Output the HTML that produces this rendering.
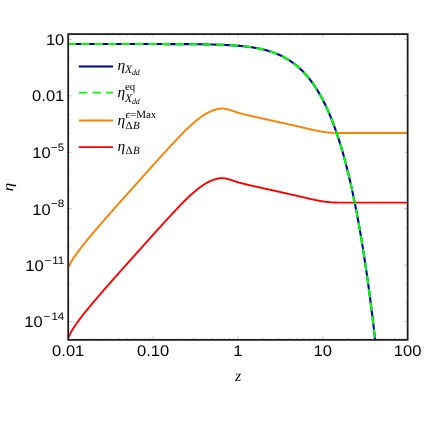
<!DOCTYPE html>
<html><head><meta charset="utf-8"><title>plot</title>
<style>
html,body{margin:0;padding:0;background:#fff;}
body{width:425px;height:425px;overflow:hidden;font-family:"Liberation Sans",sans-serif;}
svg{display:block;text-rendering:geometricPrecision;will-change:transform;}
.tl text{font-family:"Liberation Sans",sans-serif;fill:#000;}
.lg text{font-family:"Liberation Serif",serif;fill:#000;}
.it{font-style:italic;}
</style></head><body>
<svg width="425" height="425" viewBox="0 0 425 425">
<rect width="425" height="425" fill="#fff"/>
<defs><clipPath id="c"><rect x="68.2" y="34.1" width="339.45" height="305.75"/></clipPath></defs>
<g clip-path="url(#c)" fill="none" stroke-linejoin="round">
<path d="M68.2,338.46 L68.7,337.17 L69.2,335.98 L69.7,334.87 L70.2,333.83 L70.7,332.84 L71.2,331.9 L71.7,330.99 L72.2,330.13 L72.7,329.29 L73.2,328.48 L73.7,327.68 L74.2,326.91 L74.7,326.16 L75.2,325.41 L75.7,324.69 L76.2,323.97 L76.7,323.26 L77.2,322.56 L77.7,321.87 L78.2,321.19 L78.7,320.51 L79.2,319.84 L79.7,319.18 L80.2,318.52 L80.7,317.86 L81.2,317.21 L81.7,316.57 L82.2,315.92 L82.7,315.28 L83.2,314.65 L83.7,314.02 L84.2,313.39 L84.7,312.76 L85.2,312.14 L85.7,311.52 L86.2,310.9 L86.7,310.28 L87.2,309.67 L87.7,309.06 L88.2,308.45 L88.7,307.84 L89.2,307.23 L89.7,306.63 L90.2,306.03 L90.7,305.42 L91.2,304.83 L91.7,304.23 L92.2,303.63 L92.7,303.04 L93.2,302.44 L93.7,301.85 L94.2,301.26 L94.7,300.67 L95.2,300.08 L95.7,299.5 L96.2,298.91 L96.7,298.33 L97.2,297.74 L97.7,297.16 L98.2,296.58 L98.7,296 L99.2,295.41 L99.7,294.84 L100.2,294.26 L100.7,293.68 L101.2,293.1 L101.7,292.53 L102.19,291.95 L102.69,291.37 L103.19,290.8 L103.69,290.23 L104.19,289.65 L104.69,289.08 L105.19,288.51 L105.69,287.94 L106.19,287.37 L106.69,286.8 L107.19,286.23 L107.69,285.66 L108.19,285.09 L108.69,284.52 L109.19,283.95 L109.69,283.38 L110.19,282.82 L110.69,282.25 L111.19,281.68 L111.69,281.12 L112.19,280.55 L112.69,279.99 L113.19,279.42 L113.69,278.86 L114.19,278.29 L114.69,277.73 L115.19,277.16 L115.69,276.6 L116.19,276.04 L116.69,275.47 L117.19,274.91 L117.69,274.35 L118.19,273.78 L118.69,273.22 L119.19,272.66 L119.69,272.1 L120.19,271.54 L120.69,270.97 L121.19,270.41 L121.69,269.85 L122.19,269.29 L122.69,268.73 L123.19,268.17 L123.69,267.61 L124.19,267.05 L124.69,266.49 L125.19,265.93 L125.69,265.37 L126.19,264.81 L126.69,264.25 L127.19,263.69 L127.69,263.13 L128.19,262.57 L128.69,262.01 L129.19,261.45 L129.69,260.89 L130.19,260.33 L130.69,259.77 L131.19,259.21 L131.69,258.66 L132.19,258.1 L132.69,257.54 L133.19,256.98 L133.69,256.42 L134.19,255.86 L134.69,255.31 L135.19,254.75 L135.69,254.19 L136.19,253.63 L136.69,253.07 L137.19,252.51 L137.69,251.96 L138.19,251.4 L138.69,250.84 L139.19,250.28 L139.69,249.73 L140.19,249.17 L140.69,248.61 L141.19,248.05 L141.69,247.49 L142.19,246.94 L142.69,246.38 L143.19,245.82 L143.69,245.26 L144.19,244.71 L144.69,244.15 L145.19,243.59 L145.69,243.04 L146.19,242.48 L146.69,241.92 L147.19,241.36 L147.69,240.81 L148.19,240.25 L148.69,239.69 L149.19,239.14 L149.69,238.58 L150.19,238.02 L150.69,237.47 L151.19,236.91 L151.69,236.35 L152.19,235.8 L152.69,235.24 L153.19,234.69 L153.69,234.13 L154.19,233.58 L154.69,233.03 L155.19,232.47 L155.69,231.92 L156.19,231.37 L156.69,230.81 L157.19,230.26 L157.69,229.71 L158.19,229.16 L158.69,228.61 L159.19,228.06 L159.69,227.51 L160.19,226.96 L160.69,226.41 L161.19,225.86 L161.69,225.31 L162.19,224.76 L162.69,224.21 L163.19,223.66 L163.69,223.12 L164.19,222.57 L164.69,222.03 L165.19,221.48 L165.69,220.93 L166.19,220.39 L166.69,219.85 L167.19,219.3 L167.69,218.76 L168.19,218.22 L168.69,217.67 L169.19,217.13 L169.69,216.59 L170.18,216.05 L170.68,215.51 L171.18,214.97 L171.68,214.43 L172.18,213.9 L172.68,213.36 L173.18,212.82 L173.68,212.29 L174.18,211.75 L174.68,211.21 L175.18,210.68 L175.68,210.15 L176.18,209.61 L176.68,209.08 L177.18,208.55 L177.68,208.02 L178.18,207.49 L178.68,206.97 L179.18,206.44 L179.68,205.92 L180.18,205.4 L180.68,204.87 L181.18,204.36 L181.68,203.84 L182.18,203.32 L182.68,202.81 L183.18,202.3 L183.68,201.79 L184.18,201.29 L184.68,200.79 L185.18,200.29 L185.68,199.79 L186.18,199.3 L186.68,198.82 L187.18,198.33 L187.68,197.86 L188.18,197.38 L188.68,196.91 L189.18,196.45 L189.68,195.99 L190.18,195.53 L190.68,195.08 L191.18,194.63 L191.68,194.18 L192.18,193.74 L192.68,193.3 L193.18,192.87 L193.68,192.43 L194.18,192.01 L194.68,191.58 L195.18,191.16 L195.68,190.75 L196.18,190.33 L196.68,189.93 L197.18,189.52 L197.68,189.12 L198.18,188.73 L198.68,188.34 L199.18,187.96 L199.68,187.58 L200.18,187.2 L200.68,186.83 L201.18,186.47 L201.68,186.11 L202.18,185.76 L202.68,185.42 L203.18,185.08 L203.68,184.75 L204.18,184.43 L204.68,184.11 L205.18,183.8 L205.68,183.5 L206.18,183.21 L206.68,182.93 L207.18,182.66 L207.68,182.39 L208.18,182.13 L208.68,181.88 L209.18,181.64 L209.68,181.4 L210.18,181.18 L210.68,180.95 L211.18,180.74 L211.68,180.53 L212.18,180.33 L212.68,180.14 L213.18,179.96 L213.68,179.78 L214.18,179.61 L214.68,179.45 L215.18,179.3 L215.68,179.15 L216.18,179.01 L216.68,178.88 L217.18,178.76 L217.68,178.65 L218.18,178.54 L218.68,178.45 L219.18,178.36 L219.68,178.29 L220.18,178.23 L220.68,178.18 L221.18,178.15 L221.68,178.14 L222.18,178.14 L222.68,178.16 L223.18,178.19 L223.68,178.23 L224.18,178.28 L224.68,178.35 L225.18,178.42 L225.68,178.51 L226.18,178.61 L226.68,178.72 L227.18,178.83 L227.68,178.96 L228.18,179.1 L228.68,179.24 L229.18,179.38 L229.68,179.54 L230.18,179.69 L230.68,179.85 L231.18,180.02 L231.68,180.18 L232.18,180.35 L232.68,180.52 L233.18,180.69 L233.68,180.86 L234.18,181.03 L234.68,181.19 L235.18,181.36 L235.68,181.52 L236.18,181.68 L236.68,181.84 L237.18,182 L237.68,182.15 L238.17,182.3 L238.67,182.45 L239.17,182.59 L239.67,182.73 L240.17,182.87 L240.67,183.01 L241.17,183.15 L241.67,183.28 L242.17,183.41 L242.67,183.54 L243.17,183.67 L243.67,183.79 L244.17,183.92 L244.67,184.04 L245.17,184.16 L245.67,184.28 L246.17,184.4 L246.67,184.52 L247.17,184.64 L247.67,184.76 L248.17,184.88 L248.67,184.99 L249.17,185.11 L249.67,185.22 L250.17,185.34 L250.67,185.45 L251.17,185.57 L251.67,185.68 L252.17,185.79 L252.67,185.9 L253.17,186.02 L253.67,186.13 L254.17,186.24 L254.67,186.35 L255.17,186.47 L255.67,186.58 L256.17,186.69 L256.67,186.8 L257.17,186.91 L257.67,187.02 L258.17,187.13 L258.67,187.24 L259.17,187.36 L259.67,187.47 L260.17,187.58 L260.67,187.69 L261.17,187.8 L261.67,187.91 L262.17,188.02 L262.67,188.13 L263.17,188.24 L263.67,188.35 L264.17,188.47 L264.67,188.58 L265.17,188.69 L265.67,188.8 L266.17,188.91 L266.67,189.02 L267.17,189.13 L267.67,189.24 L268.17,189.35 L268.67,189.47 L269.17,189.58 L269.67,189.69 L270.17,189.8 L270.67,189.91 L271.17,190.02 L271.67,190.13 L272.17,190.24 L272.67,190.36 L273.17,190.47 L273.67,190.58 L274.17,190.69 L274.67,190.8 L275.17,190.91 L275.67,191.02 L276.17,191.13 L276.67,191.25 L277.17,191.36 L277.67,191.47 L278.17,191.58 L278.67,191.69 L279.17,191.8 L279.67,191.92 L280.17,192.03 L280.67,192.14 L281.17,192.25 L281.67,192.36 L282.17,192.48 L282.67,192.59 L283.17,192.7 L283.67,192.81 L284.17,192.92 L284.67,193.04 L285.17,193.15 L285.67,193.26 L286.17,193.37 L286.67,193.48 L287.17,193.6 L287.67,193.71 L288.17,193.82 L288.67,193.93 L289.17,194.05 L289.67,194.16 L290.17,194.27 L290.67,194.38 L291.17,194.5 L291.67,194.61 L292.17,194.72 L292.67,194.84 L293.17,194.95 L293.67,195.06 L294.17,195.18 L294.67,195.29 L295.17,195.4 L295.67,195.52 L296.17,195.63 L296.67,195.74 L297.17,195.86 L297.67,195.97 L298.17,196.08 L298.67,196.2 L299.17,196.31 L299.67,196.42 L300.17,196.54 L300.67,196.65 L301.17,196.77 L301.67,196.88 L302.17,197 L302.67,197.11 L303.17,197.23 L303.67,197.34 L304.17,197.46 L304.67,197.57 L305.17,197.69 L305.67,197.8 L306.16,197.92 L306.66,198.04 L307.16,198.16 L307.66,198.27 L308.16,198.39 L308.66,198.51 L309.16,198.62 L309.66,198.74 L310.16,198.86 L310.66,198.98 L311.16,199.09 L311.66,199.21 L312.16,199.32 L312.66,199.43 L313.16,199.54 L313.66,199.65 L314.16,199.76 L314.66,199.87 L315.16,199.97 L315.66,200.08 L316.16,200.18 L316.66,200.28 L317.16,200.38 L317.66,200.48 L318.16,200.58 L318.66,200.68 L319.16,200.77 L319.66,200.86 L320.16,200.95 L320.66,201.04 L321.16,201.12 L321.66,201.21 L322.16,201.29 L322.66,201.37 L323.16,201.44 L323.66,201.52 L324.16,201.59 L324.66,201.65 L325.16,201.72 L325.66,201.78 L326.16,201.84 L326.66,201.9 L327.16,201.96 L327.66,202.01 L328.16,202.06 L328.66,202.11 L329.16,202.15 L329.66,202.2 L330.16,202.24 L330.66,202.27 L331.16,202.31 L331.66,202.34 L332.16,202.38 L332.66,202.4 L333.16,202.43 L333.66,202.46 L334.16,202.48 L334.66,202.5 L335.16,202.52 L335.66,202.54 L336.16,202.56 L336.66,202.57 L337.16,202.58 L337.66,202.6 L338.16,202.61 L338.66,202.62 L339.16,202.62 L339.66,202.63 L340.16,202.64 L340.66,202.64 L341.16,202.65 L341.66,202.65 L342.16,202.65 L342.66,202.65 L343.16,202.65 L343.66,202.65 L344.16,202.65 L344.66,202.65 L345.16,202.65 L345.66,202.65 L346.16,202.65 L346.66,202.65 L347.16,202.65 L347.66,202.65 L348.16,202.65 L348.66,202.65 L349.16,202.65 L349.66,202.65 L350.16,202.65 L350.66,202.65 L351.16,202.65 L351.66,202.65 L352.16,202.65 L352.66,202.65 L353.16,202.65 L353.66,202.65 L354.16,202.65 L354.66,202.65 L355.16,202.65 L355.66,202.65 L356.16,202.65 L356.66,202.65 L357.16,202.65 L357.66,202.65 L358.16,202.65 L358.66,202.65 L359.16,202.65 L359.66,202.65 L360.16,202.65 L360.66,202.65 L361.16,202.65 L361.66,202.65 L362.16,202.65 L362.66,202.65 L363.16,202.65 L363.66,202.65 L364.16,202.65 L364.66,202.65 L365.16,202.65 L365.66,202.65 L366.16,202.65 L366.66,202.65 L367.16,202.65 L367.66,202.65 L368.16,202.65 L368.66,202.65 L369.16,202.65 L369.66,202.65 L370.16,202.65 L370.66,202.65 L371.16,202.65 L371.66,202.65 L372.16,202.65 L372.66,202.65 L373.16,202.65 L373.66,202.65 L374.15,202.65 L374.65,202.65 L375.15,202.65 L375.65,202.65 L376.15,202.65 L376.65,202.65 L377.15,202.65 L377.65,202.65 L378.15,202.65 L378.65,202.65 L379.15,202.65 L379.65,202.65 L380.15,202.65 L380.65,202.65 L381.15,202.65 L381.65,202.65 L382.15,202.65 L382.65,202.65 L383.15,202.65 L383.65,202.65 L384.15,202.65 L384.65,202.65 L385.15,202.65 L385.65,202.65 L386.15,202.65 L386.65,202.65 L387.15,202.65 L387.65,202.65 L388.15,202.65 L388.65,202.65 L389.15,202.65 L389.65,202.65 L390.15,202.65 L390.65,202.65 L391.15,202.65 L391.65,202.65 L392.15,202.65 L392.65,202.65 L393.15,202.65 L393.65,202.65 L394.15,202.65 L394.65,202.65 L395.15,202.65 L395.65,202.65 L396.15,202.65 L396.65,202.65 L397.15,202.65 L397.65,202.65 L398.15,202.65 L398.65,202.65 L399.15,202.65 L399.65,202.65 L400.15,202.65 L400.65,202.65 L401.15,202.65 L401.65,202.65 L402.15,202.65 L402.65,202.65 L403.15,202.65 L403.65,202.65 L404.15,202.65 L404.65,202.65 L405.15,202.65 L405.65,202.65 L406.15,202.65 L406.65,202.65 L407.15,202.65 L407.65,202.65" stroke="#ff0000" stroke-width="1.9"/>
<path d="M68.2,267.86 L68.7,266.69 L69.2,265.61 L69.7,264.59 L70.2,263.62 L70.7,262.7 L71.2,261.82 L71.7,260.98 L72.2,260.16 L72.7,259.36 L73.2,258.59 L73.7,257.83 L74.2,257.09 L74.7,256.36 L75.2,255.64 L75.7,254.93 L76.2,254.23 L76.7,253.54 L77.2,252.86 L77.7,252.18 L78.2,251.51 L78.7,250.84 L79.2,250.18 L79.7,249.52 L80.2,248.87 L80.7,248.22 L81.2,247.57 L81.7,246.93 L82.2,246.29 L82.7,245.66 L83.2,245.03 L83.7,244.4 L84.2,243.77 L84.7,243.14 L85.2,242.52 L85.7,241.9 L86.2,241.29 L86.7,240.67 L87.2,240.06 L87.7,239.45 L88.2,238.84 L88.7,238.23 L89.2,237.63 L89.7,237.02 L90.2,236.42 L90.7,235.82 L91.2,235.22 L91.7,234.63 L92.2,234.03 L92.7,233.44 L93.2,232.84 L93.7,232.25 L94.2,231.66 L94.7,231.07 L95.2,230.48 L95.7,229.9 L96.2,229.31 L96.7,228.72 L97.2,228.14 L97.7,227.56 L98.2,226.98 L98.7,226.39 L99.2,225.81 L99.7,225.24 L100.2,224.66 L100.7,224.08 L101.2,223.5 L101.7,222.93 L102.19,222.35 L102.69,221.77 L103.19,221.2 L103.69,220.63 L104.19,220.05 L104.69,219.48 L105.19,218.91 L105.69,218.34 L106.19,217.77 L106.69,217.2 L107.19,216.63 L107.69,216.06 L108.19,215.49 L108.69,214.92 L109.19,214.35 L109.69,213.78 L110.19,213.22 L110.69,212.65 L111.19,212.08 L111.69,211.52 L112.19,210.95 L112.69,210.39 L113.19,209.82 L113.69,209.26 L114.19,208.69 L114.69,208.13 L115.19,207.56 L115.69,207 L116.19,206.44 L116.69,205.87 L117.19,205.31 L117.69,204.75 L118.19,204.18 L118.69,203.62 L119.19,203.06 L119.69,202.5 L120.19,201.94 L120.69,201.37 L121.19,200.81 L121.69,200.25 L122.19,199.69 L122.69,199.13 L123.19,198.57 L123.69,198.01 L124.19,197.45 L124.69,196.89 L125.19,196.33 L125.69,195.77 L126.19,195.21 L126.69,194.65 L127.19,194.09 L127.69,193.53 L128.19,192.97 L128.69,192.41 L129.19,191.85 L129.69,191.29 L130.19,190.73 L130.69,190.17 L131.19,189.61 L131.69,189.06 L132.19,188.5 L132.69,187.94 L133.19,187.38 L133.69,186.82 L134.19,186.26 L134.69,185.71 L135.19,185.15 L135.69,184.59 L136.19,184.03 L136.69,183.47 L137.19,182.91 L137.69,182.36 L138.19,181.8 L138.69,181.24 L139.19,180.68 L139.69,180.13 L140.19,179.57 L140.69,179.01 L141.19,178.45 L141.69,177.89 L142.19,177.34 L142.69,176.78 L143.19,176.22 L143.69,175.66 L144.19,175.11 L144.69,174.55 L145.19,173.99 L145.69,173.44 L146.19,172.88 L146.69,172.32 L147.19,171.76 L147.69,171.21 L148.19,170.65 L148.69,170.09 L149.19,169.54 L149.69,168.98 L150.19,168.42 L150.69,167.87 L151.19,167.31 L151.69,166.75 L152.19,166.2 L152.69,165.64 L153.19,165.09 L153.69,164.53 L154.19,163.98 L154.69,163.43 L155.19,162.87 L155.69,162.32 L156.19,161.77 L156.69,161.21 L157.19,160.66 L157.69,160.11 L158.19,159.56 L158.69,159.01 L159.19,158.46 L159.69,157.91 L160.19,157.36 L160.69,156.81 L161.19,156.26 L161.69,155.71 L162.19,155.16 L162.69,154.61 L163.19,154.06 L163.69,153.52 L164.19,152.97 L164.69,152.43 L165.19,151.88 L165.69,151.33 L166.19,150.79 L166.69,150.25 L167.19,149.7 L167.69,149.16 L168.19,148.62 L168.69,148.07 L169.19,147.53 L169.69,146.99 L170.18,146.45 L170.68,145.91 L171.18,145.37 L171.68,144.83 L172.18,144.3 L172.68,143.76 L173.18,143.22 L173.68,142.69 L174.18,142.15 L174.68,141.61 L175.18,141.08 L175.68,140.55 L176.18,140.01 L176.68,139.48 L177.18,138.95 L177.68,138.42 L178.18,137.89 L178.68,137.37 L179.18,136.84 L179.68,136.32 L180.18,135.8 L180.68,135.27 L181.18,134.76 L181.68,134.24 L182.18,133.72 L182.68,133.21 L183.18,132.7 L183.68,132.19 L184.18,131.69 L184.68,131.19 L185.18,130.69 L185.68,130.19 L186.18,129.7 L186.68,129.22 L187.18,128.73 L187.68,128.26 L188.18,127.78 L188.68,127.31 L189.18,126.85 L189.68,126.39 L190.18,125.93 L190.68,125.48 L191.18,125.03 L191.68,124.58 L192.18,124.14 L192.68,123.7 L193.18,123.27 L193.68,122.83 L194.18,122.41 L194.68,121.98 L195.18,121.56 L195.68,121.15 L196.18,120.73 L196.68,120.33 L197.18,119.92 L197.68,119.52 L198.18,119.13 L198.68,118.74 L199.18,118.36 L199.68,117.98 L200.18,117.6 L200.68,117.23 L201.18,116.87 L201.68,116.51 L202.18,116.16 L202.68,115.82 L203.18,115.48 L203.68,115.15 L204.18,114.83 L204.68,114.51 L205.18,114.2 L205.68,113.9 L206.18,113.61 L206.68,113.33 L207.18,113.06 L207.68,112.79 L208.18,112.53 L208.68,112.28 L209.18,112.04 L209.68,111.8 L210.18,111.58 L210.68,111.35 L211.18,111.14 L211.68,110.93 L212.18,110.73 L212.68,110.54 L213.18,110.36 L213.68,110.18 L214.18,110.01 L214.68,109.85 L215.18,109.7 L215.68,109.55 L216.18,109.41 L216.68,109.28 L217.18,109.16 L217.68,109.05 L218.18,108.94 L218.68,108.85 L219.18,108.76 L219.68,108.69 L220.18,108.63 L220.68,108.58 L221.18,108.55 L221.68,108.54 L222.18,108.54 L222.68,108.56 L223.18,108.59 L223.68,108.63 L224.18,108.68 L224.68,108.75 L225.18,108.82 L225.68,108.91 L226.18,109.01 L226.68,109.12 L227.18,109.23 L227.68,109.36 L228.18,109.5 L228.68,109.64 L229.18,109.78 L229.68,109.94 L230.18,110.09 L230.68,110.25 L231.18,110.42 L231.68,110.58 L232.18,110.75 L232.68,110.92 L233.18,111.09 L233.68,111.26 L234.18,111.43 L234.68,111.59 L235.18,111.76 L235.68,111.92 L236.18,112.08 L236.68,112.24 L237.18,112.4 L237.68,112.55 L238.17,112.7 L238.67,112.85 L239.17,112.99 L239.67,113.13 L240.17,113.27 L240.67,113.41 L241.17,113.55 L241.67,113.68 L242.17,113.81 L242.67,113.94 L243.17,114.07 L243.67,114.19 L244.17,114.32 L244.67,114.44 L245.17,114.56 L245.67,114.68 L246.17,114.8 L246.67,114.92 L247.17,115.04 L247.67,115.16 L248.17,115.28 L248.67,115.39 L249.17,115.51 L249.67,115.62 L250.17,115.74 L250.67,115.85 L251.17,115.97 L251.67,116.08 L252.17,116.19 L252.67,116.3 L253.17,116.42 L253.67,116.53 L254.17,116.64 L254.67,116.75 L255.17,116.87 L255.67,116.98 L256.17,117.09 L256.67,117.2 L257.17,117.31 L257.67,117.42 L258.17,117.53 L258.67,117.64 L259.17,117.76 L259.67,117.87 L260.17,117.98 L260.67,118.09 L261.17,118.2 L261.67,118.31 L262.17,118.42 L262.67,118.53 L263.17,118.64 L263.67,118.75 L264.17,118.87 L264.67,118.98 L265.17,119.09 L265.67,119.2 L266.17,119.31 L266.67,119.42 L267.17,119.53 L267.67,119.64 L268.17,119.75 L268.67,119.87 L269.17,119.98 L269.67,120.09 L270.17,120.2 L270.67,120.31 L271.17,120.42 L271.67,120.53 L272.17,120.64 L272.67,120.76 L273.17,120.87 L273.67,120.98 L274.17,121.09 L274.67,121.2 L275.17,121.31 L275.67,121.42 L276.17,121.53 L276.67,121.65 L277.17,121.76 L277.67,121.87 L278.17,121.98 L278.67,122.09 L279.17,122.2 L279.67,122.32 L280.17,122.43 L280.67,122.54 L281.17,122.65 L281.67,122.76 L282.17,122.88 L282.67,122.99 L283.17,123.1 L283.67,123.21 L284.17,123.32 L284.67,123.44 L285.17,123.55 L285.67,123.66 L286.17,123.77 L286.67,123.88 L287.17,124 L287.67,124.11 L288.17,124.22 L288.67,124.33 L289.17,124.45 L289.67,124.56 L290.17,124.67 L290.67,124.78 L291.17,124.9 L291.67,125.01 L292.17,125.12 L292.67,125.24 L293.17,125.35 L293.67,125.46 L294.17,125.58 L294.67,125.69 L295.17,125.8 L295.67,125.92 L296.17,126.03 L296.67,126.14 L297.17,126.26 L297.67,126.37 L298.17,126.48 L298.67,126.6 L299.17,126.71 L299.67,126.82 L300.17,126.94 L300.67,127.05 L301.17,127.17 L301.67,127.28 L302.17,127.4 L302.67,127.51 L303.17,127.63 L303.67,127.74 L304.17,127.86 L304.67,127.97 L305.17,128.09 L305.67,128.2 L306.16,128.32 L306.66,128.44 L307.16,128.56 L307.66,128.67 L308.16,128.79 L308.66,128.91 L309.16,129.02 L309.66,129.14 L310.16,129.26 L310.66,129.38 L311.16,129.49 L311.66,129.61 L312.16,129.72 L312.66,129.83 L313.16,129.94 L313.66,130.05 L314.16,130.16 L314.66,130.27 L315.16,130.37 L315.66,130.48 L316.16,130.58 L316.66,130.68 L317.16,130.78 L317.66,130.88 L318.16,130.98 L318.66,131.08 L319.16,131.17 L319.66,131.26 L320.16,131.35 L320.66,131.44 L321.16,131.52 L321.66,131.61 L322.16,131.69 L322.66,131.77 L323.16,131.84 L323.66,131.92 L324.16,131.99 L324.66,132.05 L325.16,132.12 L325.66,132.18 L326.16,132.24 L326.66,132.3 L327.16,132.36 L327.66,132.41 L328.16,132.46 L328.66,132.51 L329.16,132.55 L329.66,132.6 L330.16,132.64 L330.66,132.67 L331.16,132.71 L331.66,132.74 L332.16,132.78 L332.66,132.8 L333.16,132.83 L333.66,132.86 L334.16,132.88 L334.66,132.9 L335.16,132.92 L335.66,132.94 L336.16,132.96 L336.66,132.97 L337.16,132.98 L337.66,133 L338.16,133.01 L338.66,133.02 L339.16,133.02 L339.66,133.03 L340.16,133.04 L340.66,133.04 L341.16,133.05 L341.66,133.05 L342.16,133.05 L342.66,133.05 L343.16,133.05 L343.66,133.05 L344.16,133.05 L344.66,133.05 L345.16,133.05 L345.66,133.05 L346.16,133.05 L346.66,133.05 L347.16,133.05 L347.66,133.05 L348.16,133.05 L348.66,133.05 L349.16,133.05 L349.66,133.05 L350.16,133.05 L350.66,133.05 L351.16,133.05 L351.66,133.05 L352.16,133.05 L352.66,133.05 L353.16,133.05 L353.66,133.05 L354.16,133.05 L354.66,133.05 L355.16,133.05 L355.66,133.05 L356.16,133.05 L356.66,133.05 L357.16,133.05 L357.66,133.05 L358.16,133.05 L358.66,133.05 L359.16,133.05 L359.66,133.05 L360.16,133.05 L360.66,133.05 L361.16,133.05 L361.66,133.05 L362.16,133.05 L362.66,133.05 L363.16,133.05 L363.66,133.05 L364.16,133.05 L364.66,133.05 L365.16,133.05 L365.66,133.05 L366.16,133.05 L366.66,133.05 L367.16,133.05 L367.66,133.05 L368.16,133.05 L368.66,133.05 L369.16,133.05 L369.66,133.05 L370.16,133.05 L370.66,133.05 L371.16,133.05 L371.66,133.05 L372.16,133.05 L372.66,133.05 L373.16,133.05 L373.66,133.05 L374.15,133.05 L374.65,133.05 L375.15,133.05 L375.65,133.05 L376.15,133.05 L376.65,133.05 L377.15,133.05 L377.65,133.05 L378.15,133.05 L378.65,133.05 L379.15,133.05 L379.65,133.05 L380.15,133.05 L380.65,133.05 L381.15,133.05 L381.65,133.05 L382.15,133.05 L382.65,133.05 L383.15,133.05 L383.65,133.05 L384.15,133.05 L384.65,133.05 L385.15,133.05 L385.65,133.05 L386.15,133.05 L386.65,133.05 L387.15,133.05 L387.65,133.05 L388.15,133.05 L388.65,133.05 L389.15,133.05 L389.65,133.05 L390.15,133.05 L390.65,133.05 L391.15,133.05 L391.65,133.05 L392.15,133.05 L392.65,133.05 L393.15,133.05 L393.65,133.05 L394.15,133.05 L394.65,133.05 L395.15,133.05 L395.65,133.05 L396.15,133.05 L396.65,133.05 L397.15,133.05 L397.65,133.05 L398.15,133.05 L398.65,133.05 L399.15,133.05 L399.65,133.05 L400.15,133.05 L400.65,133.05 L401.15,133.05 L401.65,133.05 L402.15,133.05 L402.65,133.05 L403.15,133.05 L403.65,133.05 L404.15,133.05 L404.65,133.05 L405.15,133.05 L405.65,133.05 L406.15,133.05 L406.65,133.05 L407.15,133.05 L407.65,133.05" stroke="#ff8000" stroke-width="1.9"/>
<path d="M68.2,44.04 L68.77,44.04 L69.33,44.04 L69.9,44.04 L70.47,44.04 L71.03,44.04 L71.6,44.04 L72.17,44.04 L72.73,44.04 L73.3,44.04 L73.87,44.04 L74.43,44.04 L75,44.04 L75.57,44.04 L76.13,44.04 L76.7,44.04 L77.27,44.04 L77.83,44.04 L78.4,44.04 L78.97,44.04 L79.53,44.04 L80.1,44.04 L80.67,44.04 L81.23,44.04 L81.8,44.04 L82.37,44.04 L82.93,44.04 L83.5,44.04 L84.07,44.04 L84.63,44.04 L85.2,44.04 L85.77,44.04 L86.33,44.04 L86.9,44.04 L87.47,44.04 L88.03,44.04 L88.6,44.04 L89.17,44.04 L89.73,44.04 L90.3,44.04 L90.87,44.04 L91.43,44.04 L92,44.04 L92.57,44.04 L93.13,44.04 L93.7,44.04 L94.27,44.04 L94.83,44.04 L95.4,44.04 L95.97,44.04 L96.53,44.04 L97.1,44.04 L97.67,44.04 L98.23,44.04 L98.8,44.04 L99.37,44.04 L99.93,44.04 L100.5,44.04 L101.07,44.04 L101.63,44.04 L102.2,44.04 L102.77,44.04 L103.34,44.04 L103.9,44.04 L104.47,44.04 L105.04,44.04 L105.6,44.04 L106.17,44.04 L106.74,44.04 L107.3,44.04 L107.87,44.04 L108.44,44.04 L109,44.04 L109.57,44.04 L110.14,44.04 L110.7,44.04 L111.27,44.04 L111.84,44.04 L112.4,44.04 L112.97,44.04 L113.54,44.04 L114.1,44.04 L114.67,44.04 L115.24,44.04 L115.8,44.04 L116.37,44.04 L116.94,44.04 L117.5,44.04 L118.07,44.04 L118.64,44.04 L119.2,44.04 L119.77,44.04 L120.34,44.04 L120.9,44.04 L121.47,44.04 L122.04,44.04 L122.6,44.04 L123.17,44.04 L123.74,44.04 L124.3,44.04 L124.87,44.04 L125.44,44.04 L126,44.04 L126.57,44.04 L127.14,44.04 L127.7,44.04 L128.27,44.04 L128.84,44.05 L129.4,44.05 L129.97,44.05 L130.54,44.05 L131.1,44.05 L131.67,44.05 L132.24,44.05 L132.8,44.05 L133.37,44.05 L133.94,44.05 L134.5,44.05 L135.07,44.05 L135.64,44.05 L136.2,44.05 L136.77,44.05 L137.34,44.05 L137.9,44.05 L138.47,44.05 L139.04,44.05 L139.6,44.05 L140.17,44.05 L140.74,44.05 L141.3,44.05 L141.87,44.05 L142.44,44.05 L143,44.05 L143.57,44.05 L144.14,44.05 L144.7,44.05 L145.27,44.05 L145.84,44.05 L146.4,44.05 L146.97,44.05 L147.54,44.05 L148.1,44.06 L148.67,44.06 L149.24,44.06 L149.8,44.06 L150.37,44.06 L150.94,44.06 L151.5,44.06 L152.07,44.06 L152.64,44.06 L153.2,44.06 L153.77,44.06 L154.34,44.06 L154.9,44.06 L155.47,44.06 L156.04,44.06 L156.6,44.06 L157.17,44.06 L157.74,44.07 L158.3,44.07 L158.87,44.07 L159.44,44.07 L160,44.07 L160.57,44.07 L161.14,44.07 L161.7,44.07 L162.27,44.07 L162.84,44.07 L163.4,44.07 L163.97,44.08 L164.54,44.08 L165.1,44.08 L165.67,44.08 L166.24,44.08 L166.8,44.08 L167.37,44.08 L167.94,44.08 L168.5,44.09 L169.07,44.09 L169.64,44.09 L170.21,44.09 L170.77,44.09 L171.34,44.09 L171.91,44.1 L172.47,44.1 L173.04,44.1 L173.61,44.1 L174.17,44.1 L174.74,44.1 L175.31,44.11 L175.87,44.11 L176.44,44.11 L177.01,44.11 L177.57,44.12 L178.14,44.12 L178.71,44.12 L179.27,44.12 L179.84,44.12 L180.41,44.13 L180.97,44.13 L181.54,44.13 L182.11,44.14 L182.67,44.14 L183.24,44.14 L183.81,44.15 L184.37,44.15 L184.94,44.15 L185.51,44.16 L186.07,44.16 L186.64,44.16 L187.21,44.17 L187.77,44.17 L188.34,44.17 L188.91,44.18 L189.47,44.18 L190.04,44.19 L190.61,44.19 L191.17,44.2 L191.74,44.2 L192.31,44.21 L192.87,44.21 L193.44,44.22 L194.01,44.22 L194.57,44.23 L195.14,44.23 L195.71,44.24 L196.27,44.24 L196.84,44.25 L197.41,44.26 L197.97,44.26 L198.54,44.27 L199.11,44.28 L199.67,44.28 L200.24,44.29 L200.81,44.3 L201.37,44.31 L201.94,44.31 L202.51,44.32 L203.07,44.33 L203.64,44.34 L204.21,44.35 L204.77,44.36 L205.34,44.37 L205.91,44.38 L206.47,44.39 L207.04,44.4 L207.61,44.41 L208.17,44.42 L208.74,44.43 L209.31,44.44 L209.87,44.45 L210.44,44.47 L211.01,44.48 L211.57,44.49 L212.14,44.51 L212.71,44.52 L213.27,44.53 L213.84,44.55 L214.41,44.56 L214.97,44.58 L215.54,44.6 L216.11,44.61 L216.67,44.63 L217.24,44.65 L217.81,44.66 L218.37,44.68 L218.94,44.7 L219.51,44.72 L220.07,44.74 L220.64,44.76 L221.21,44.78 L221.77,44.8 L222.34,44.82 L222.91,44.85 L223.47,44.87 L224.04,44.89 L224.61,44.92 L225.17,44.94 L225.74,44.97 L226.31,45 L226.87,45.02 L227.44,45.05 L228.01,45.08 L228.57,45.11 L229.14,45.14 L229.71,45.17 L230.27,45.21 L230.84,45.24 L231.41,45.27 L231.97,45.31 L232.54,45.34 L233.11,45.38 L233.67,45.42 L234.24,45.46 L234.81,45.5 L235.37,45.54 L235.94,45.58 L236.51,45.62 L237.07,45.67 L237.64,45.71 L238.21,45.76 L238.78,45.81 L239.34,45.86 L239.91,45.91 L240.48,45.96 L241.04,46.01 L241.61,46.06 L242.18,46.12 L242.74,46.18 L243.31,46.24 L243.88,46.3 L244.44,46.36 L245.01,46.42 L245.58,46.48 L246.14,46.55 L246.71,46.62 L247.28,46.69 L247.84,46.76 L248.41,46.83 L248.98,46.91 L249.54,46.98 L250.11,47.06 L250.68,47.14 L251.24,47.23 L251.81,47.31 L252.38,47.4 L252.94,47.49 L253.51,47.58 L254.08,47.67 L254.64,47.77 L255.21,47.86 L255.78,47.96 L256.34,48.06 L256.91,48.17 L257.48,48.28 L258.04,48.39 L258.61,48.5 L259.18,48.61 L259.74,48.73 L260.31,48.85 L260.88,48.98 L261.44,49.1 L262.01,49.23 L262.58,49.36 L263.14,49.5 L263.71,49.64 L264.28,49.78 L264.84,49.92 L265.41,50.07 L265.98,50.22 L266.54,50.37 L267.11,50.53 L267.68,50.69 L268.24,50.86 L268.81,51.03 L269.38,51.2 L269.94,51.38 L270.51,51.56 L271.08,51.74 L271.64,51.93 L272.21,52.12 L272.78,52.32 L273.34,52.52 L273.91,52.73 L274.48,52.94 L275.04,53.15 L275.61,53.37 L276.18,53.6 L276.74,53.82 L277.31,54.06 L277.88,54.3 L278.44,54.54 L279.01,54.79 L279.58,55.04 L280.14,55.3 L280.71,55.57 L281.28,55.84 L281.84,56.11 L282.41,56.39 L282.98,56.68 L283.54,56.98 L284.11,57.27 L284.68,57.58 L285.24,57.89 L285.81,58.21 L286.38,58.54 L286.94,58.87 L287.51,59.21 L288.08,59.55 L288.64,59.9 L289.21,60.26 L289.78,60.63 L290.34,61 L290.91,61.38 L291.48,61.77 L292.04,62.17 L292.61,62.57 L293.18,62.98 L293.74,63.41 L294.31,63.83 L294.88,64.27 L295.44,64.72 L296.01,65.17 L296.58,65.63 L297.14,66.11 L297.71,66.59 L298.28,67.08 L298.84,67.58 L299.41,68.09 L299.98,68.61 L300.54,69.14 L301.11,69.68 L301.68,70.23 L302.24,70.79 L302.81,71.36 L303.38,71.94 L303.94,72.53 L304.51,73.13 L305.08,73.75 L305.64,74.37 L306.21,75.01 L306.78,75.66 L307.35,76.33 L307.91,77 L308.48,77.69 L309.05,78.39 L309.61,79.1 L310.18,79.82 L310.75,80.56 L311.31,81.32 L311.88,82.08 L312.45,82.86 L313.01,83.66 L313.58,84.47 L314.15,85.29 L314.71,86.13 L315.28,86.98 L315.85,87.85 L316.41,88.73 L316.98,89.64 L317.55,90.55 L318.11,91.49 L318.68,92.44 L319.25,93.4 L319.81,94.39 L320.38,95.39 L320.95,96.41 L321.51,97.44 L322.08,98.5 L322.65,99.57 L323.21,100.67 L323.78,101.78 L324.35,102.91 L324.91,104.06 L325.48,105.24 L326.05,106.43 L326.61,107.64 L327.18,108.88 L327.75,110.13 L328.31,111.41 L328.88,112.71 L329.45,114.03 L330.01,115.38 L330.58,116.75 L331.15,118.14 L331.71,119.55 L332.28,120.99 L332.85,122.46 L333.41,123.95 L333.98,125.47 L334.55,127.01 L335.11,128.58 L335.68,130.17 L336.25,131.79 L336.81,133.44 L337.38,135.12 L337.95,136.83 L338.51,138.56 L339.08,140.32 L339.65,142.12 L340.21,143.94 L340.78,145.8 L341.35,147.69 L341.91,149.6 L342.48,151.55 L343.05,153.54 L343.61,155.55 L344.18,157.6 L344.75,159.69 L345.31,161.81 L345.88,163.96 L346.45,166.15 L347.01,168.38 L347.58,170.65 L348.15,172.95 L348.71,175.29 L349.28,177.67 L349.85,180.09 L350.41,182.54 L350.98,185.04 L351.55,187.59 L352.11,190.17 L352.68,192.79 L353.25,195.46 L353.81,198.17 L354.38,200.93 L354.95,203.73 L355.51,206.58 L356.08,209.48 L356.65,212.42 L357.21,215.41 L357.78,218.45 L358.35,221.54 L358.91,224.68 L359.48,227.87 L360.05,231.12 L360.61,234.42 L361.18,237.77 L361.75,241.17 L362.31,244.63 L362.88,248.15 L363.45,251.72 L364.01,255.36 L364.58,259.05 L365.15,262.8 L365.71,266.61 L366.28,270.48 L366.85,274.42 L367.41,278.42 L367.98,282.48 L368.55,286.61 L369.11,290.81 L369.68,295.08 L370.25,299.41 L370.81,303.81 L371.38,308.29 L371.95,312.83 L372.51,317.45 L373.08,322.15 L373.65,326.92 L374.22,331.76 L374.78,336.69 L375.35,341.69" stroke="#0000aa" stroke-width="2.1"/>
<path d="M68.2,44.04 L68.77,44.04 L69.33,44.04 L69.9,44.04 L70.47,44.04 L71.03,44.04 L71.6,44.04 L72.17,44.04 L72.73,44.04 L73.3,44.04 L73.87,44.04 L74.43,44.04 L75,44.04 L75.57,44.04 L76.13,44.04 L76.7,44.04 L77.27,44.04 L77.83,44.04 L78.4,44.04 L78.97,44.04 L79.53,44.04 L80.1,44.04 L80.67,44.04 L81.23,44.04 L81.8,44.04 L82.37,44.04 L82.93,44.04 L83.5,44.04 L84.07,44.04 L84.63,44.04 L85.2,44.04 L85.77,44.04 L86.33,44.04 L86.9,44.04 L87.47,44.04 L88.03,44.04 L88.6,44.04 L89.17,44.04 L89.73,44.04 L90.3,44.04 L90.87,44.04 L91.43,44.04 L92,44.04 L92.57,44.04 L93.13,44.04 L93.7,44.04 L94.27,44.04 L94.83,44.04 L95.4,44.04 L95.97,44.04 L96.53,44.04 L97.1,44.04 L97.67,44.04 L98.23,44.04 L98.8,44.04 L99.37,44.04 L99.93,44.04 L100.5,44.04 L101.07,44.04 L101.63,44.04 L102.2,44.04 L102.77,44.04 L103.34,44.04 L103.9,44.04 L104.47,44.04 L105.04,44.04 L105.6,44.04 L106.17,44.04 L106.74,44.04 L107.3,44.04 L107.87,44.04 L108.44,44.04 L109,44.04 L109.57,44.04 L110.14,44.04 L110.7,44.04 L111.27,44.04 L111.84,44.04 L112.4,44.04 L112.97,44.04 L113.54,44.04 L114.1,44.04 L114.67,44.04 L115.24,44.04 L115.8,44.04 L116.37,44.04 L116.94,44.04 L117.5,44.04 L118.07,44.04 L118.64,44.04 L119.2,44.04 L119.77,44.04 L120.34,44.04 L120.9,44.04 L121.47,44.04 L122.04,44.04 L122.6,44.04 L123.17,44.04 L123.74,44.04 L124.3,44.04 L124.87,44.04 L125.44,44.04 L126,44.04 L126.57,44.04 L127.14,44.04 L127.7,44.04 L128.27,44.04 L128.84,44.05 L129.4,44.05 L129.97,44.05 L130.54,44.05 L131.1,44.05 L131.67,44.05 L132.24,44.05 L132.8,44.05 L133.37,44.05 L133.94,44.05 L134.5,44.05 L135.07,44.05 L135.64,44.05 L136.2,44.05 L136.77,44.05 L137.34,44.05 L137.9,44.05 L138.47,44.05 L139.04,44.05 L139.6,44.05 L140.17,44.05 L140.74,44.05 L141.3,44.05 L141.87,44.05 L142.44,44.05 L143,44.05 L143.57,44.05 L144.14,44.05 L144.7,44.05 L145.27,44.05 L145.84,44.05 L146.4,44.05 L146.97,44.05 L147.54,44.05 L148.1,44.06 L148.67,44.06 L149.24,44.06 L149.8,44.06 L150.37,44.06 L150.94,44.06 L151.5,44.06 L152.07,44.06 L152.64,44.06 L153.2,44.06 L153.77,44.06 L154.34,44.06 L154.9,44.06 L155.47,44.06 L156.04,44.06 L156.6,44.06 L157.17,44.06 L157.74,44.07 L158.3,44.07 L158.87,44.07 L159.44,44.07 L160,44.07 L160.57,44.07 L161.14,44.07 L161.7,44.07 L162.27,44.07 L162.84,44.07 L163.4,44.07 L163.97,44.08 L164.54,44.08 L165.1,44.08 L165.67,44.08 L166.24,44.08 L166.8,44.08 L167.37,44.08 L167.94,44.08 L168.5,44.09 L169.07,44.09 L169.64,44.09 L170.21,44.09 L170.77,44.09 L171.34,44.09 L171.91,44.1 L172.47,44.1 L173.04,44.1 L173.61,44.1 L174.17,44.1 L174.74,44.1 L175.31,44.11 L175.87,44.11 L176.44,44.11 L177.01,44.11 L177.57,44.12 L178.14,44.12 L178.71,44.12 L179.27,44.12 L179.84,44.12 L180.41,44.13 L180.97,44.13 L181.54,44.13 L182.11,44.14 L182.67,44.14 L183.24,44.14 L183.81,44.15 L184.37,44.15 L184.94,44.15 L185.51,44.16 L186.07,44.16 L186.64,44.16 L187.21,44.17 L187.77,44.17 L188.34,44.17 L188.91,44.18 L189.47,44.18 L190.04,44.19 L190.61,44.19 L191.17,44.2 L191.74,44.2 L192.31,44.21 L192.87,44.21 L193.44,44.22 L194.01,44.22 L194.57,44.23 L195.14,44.23 L195.71,44.24 L196.27,44.24 L196.84,44.25 L197.41,44.26 L197.97,44.26 L198.54,44.27 L199.11,44.28 L199.67,44.28 L200.24,44.29 L200.81,44.3 L201.37,44.31 L201.94,44.31 L202.51,44.32 L203.07,44.33 L203.64,44.34 L204.21,44.35 L204.77,44.36 L205.34,44.37 L205.91,44.38 L206.47,44.39 L207.04,44.4 L207.61,44.41 L208.17,44.42 L208.74,44.43 L209.31,44.44 L209.87,44.45 L210.44,44.47 L211.01,44.48 L211.57,44.49 L212.14,44.51 L212.71,44.52 L213.27,44.53 L213.84,44.55 L214.41,44.56 L214.97,44.58 L215.54,44.6 L216.11,44.61 L216.67,44.63 L217.24,44.65 L217.81,44.66 L218.37,44.68 L218.94,44.7 L219.51,44.72 L220.07,44.74 L220.64,44.76 L221.21,44.78 L221.77,44.8 L222.34,44.82 L222.91,44.85 L223.47,44.87 L224.04,44.89 L224.61,44.92 L225.17,44.94 L225.74,44.97 L226.31,45 L226.87,45.02 L227.44,45.05 L228.01,45.08 L228.57,45.11 L229.14,45.14 L229.71,45.17 L230.27,45.21 L230.84,45.24 L231.41,45.27 L231.97,45.31 L232.54,45.34 L233.11,45.38 L233.67,45.42 L234.24,45.46 L234.81,45.5 L235.37,45.54 L235.94,45.58 L236.51,45.62 L237.07,45.67 L237.64,45.71 L238.21,45.76 L238.78,45.81 L239.34,45.86 L239.91,45.91 L240.48,45.96 L241.04,46.01 L241.61,46.06 L242.18,46.12 L242.74,46.18 L243.31,46.24 L243.88,46.3 L244.44,46.36 L245.01,46.42 L245.58,46.48 L246.14,46.55 L246.71,46.62 L247.28,46.69 L247.84,46.76 L248.41,46.83 L248.98,46.91 L249.54,46.98 L250.11,47.06 L250.68,47.14 L251.24,47.23 L251.81,47.31 L252.38,47.4 L252.94,47.49 L253.51,47.58 L254.08,47.67 L254.64,47.77 L255.21,47.86 L255.78,47.96 L256.34,48.06 L256.91,48.17 L257.48,48.28 L258.04,48.39 L258.61,48.5 L259.18,48.61 L259.74,48.73 L260.31,48.85 L260.88,48.98 L261.44,49.1 L262.01,49.23 L262.58,49.36 L263.14,49.5 L263.71,49.64 L264.28,49.78 L264.84,49.92 L265.41,50.07 L265.98,50.22 L266.54,50.37 L267.11,50.53 L267.68,50.69 L268.24,50.86 L268.81,51.03 L269.38,51.2 L269.94,51.38 L270.51,51.56 L271.08,51.74 L271.64,51.93 L272.21,52.12 L272.78,52.32 L273.34,52.52 L273.91,52.73 L274.48,52.94 L275.04,53.15 L275.61,53.37 L276.18,53.6 L276.74,53.82 L277.31,54.06 L277.88,54.3 L278.44,54.54 L279.01,54.79 L279.58,55.04 L280.14,55.3 L280.71,55.57 L281.28,55.84 L281.84,56.11 L282.41,56.39 L282.98,56.68 L283.54,56.98 L284.11,57.27 L284.68,57.58 L285.24,57.89 L285.81,58.21 L286.38,58.54 L286.94,58.87 L287.51,59.21 L288.08,59.55 L288.64,59.9 L289.21,60.26 L289.78,60.63 L290.34,61 L290.91,61.38 L291.48,61.77 L292.04,62.17 L292.61,62.57 L293.18,62.98 L293.74,63.41 L294.31,63.83 L294.88,64.27 L295.44,64.72 L296.01,65.17 L296.58,65.63 L297.14,66.11 L297.71,66.59 L298.28,67.08 L298.84,67.58 L299.41,68.09 L299.98,68.61 L300.54,69.14 L301.11,69.68 L301.68,70.23 L302.24,70.79 L302.81,71.36 L303.38,71.94 L303.94,72.53 L304.51,73.13 L305.08,73.75 L305.64,74.37 L306.21,75.01 L306.78,75.66 L307.35,76.33 L307.91,77 L308.48,77.69 L309.05,78.39 L309.61,79.1 L310.18,79.82 L310.75,80.56 L311.31,81.32 L311.88,82.08 L312.45,82.86 L313.01,83.66 L313.58,84.47 L314.15,85.29 L314.71,86.13 L315.28,86.98 L315.85,87.85 L316.41,88.73 L316.98,89.64 L317.55,90.55 L318.11,91.49 L318.68,92.44 L319.25,93.4 L319.81,94.39 L320.38,95.39 L320.95,96.41 L321.51,97.44 L322.08,98.5 L322.65,99.57 L323.21,100.67 L323.78,101.78 L324.35,102.91 L324.91,104.06 L325.48,105.24 L326.05,106.43 L326.61,107.64 L327.18,108.88 L327.75,110.13 L328.31,111.41 L328.88,112.71 L329.45,114.03 L330.01,115.38 L330.58,116.75 L331.15,118.14 L331.71,119.55 L332.28,120.99 L332.85,122.46 L333.41,123.95 L333.98,125.47 L334.55,127.01 L335.11,128.58 L335.68,130.17 L336.25,131.79 L336.81,133.44 L337.38,135.12 L337.95,136.83 L338.51,138.56 L339.08,140.32 L339.65,142.12 L340.21,143.94 L340.78,145.8 L341.35,147.69 L341.91,149.6 L342.48,151.55 L343.05,153.54 L343.61,155.55 L344.18,157.6 L344.75,159.69 L345.31,161.81 L345.88,163.96 L346.45,166.15 L347.01,168.38 L347.58,170.65 L348.15,172.95 L348.71,175.29 L349.28,177.67 L349.85,180.09 L350.41,182.54 L350.98,185.04 L351.55,187.59 L352.11,190.17 L352.68,192.79 L353.25,195.46 L353.81,198.17 L354.38,200.93 L354.95,203.73 L355.51,206.58 L356.08,209.48 L356.65,212.42 L357.21,215.41 L357.78,218.45 L358.35,221.54 L358.91,224.68 L359.48,227.87 L360.05,231.12 L360.61,234.42 L361.18,237.77 L361.75,241.17 L362.31,244.63 L362.88,248.15 L363.45,251.72 L364.01,255.36 L364.58,259.05 L365.15,262.8 L365.71,266.61 L366.28,270.48 L366.85,274.42 L367.41,278.42 L367.98,282.48 L368.55,286.61 L369.11,290.81 L369.68,295.08 L370.25,299.41 L370.81,303.81 L371.38,308.29 L371.95,312.83 L372.51,317.45 L373.08,322.15 L373.65,326.92 L374.22,331.76 L374.78,336.69 L375.35,341.69" stroke="#00ff00" stroke-width="2.1" stroke-dasharray="8.5 5" stroke-dashoffset="0.8"/>
</g>
<g stroke="#777" stroke-width="0.4">
<line x1="68.2" y1="39.45" x2="71.75" y2="39.45"/>
<line x1="407.65" y1="39.45" x2="404.1" y2="39.45"/>
<line x1="68.2" y1="58.25" x2="70.05" y2="58.25"/>
<line x1="407.65" y1="58.25" x2="405.8" y2="58.25"/>
<line x1="68.2" y1="77.05" x2="70.05" y2="77.05"/>
<line x1="407.65" y1="77.05" x2="405.8" y2="77.05"/>
<line x1="68.2" y1="95.85" x2="71.75" y2="95.85"/>
<line x1="407.65" y1="95.85" x2="404.1" y2="95.85"/>
<line x1="68.2" y1="114.65" x2="70.05" y2="114.65"/>
<line x1="407.65" y1="114.65" x2="405.8" y2="114.65"/>
<line x1="68.2" y1="133.45" x2="70.05" y2="133.45"/>
<line x1="407.65" y1="133.45" x2="405.8" y2="133.45"/>
<line x1="68.2" y1="152.25" x2="71.75" y2="152.25"/>
<line x1="407.65" y1="152.25" x2="404.1" y2="152.25"/>
<line x1="68.2" y1="171.05" x2="70.05" y2="171.05"/>
<line x1="407.65" y1="171.05" x2="405.8" y2="171.05"/>
<line x1="68.2" y1="189.85" x2="70.05" y2="189.85"/>
<line x1="407.65" y1="189.85" x2="405.8" y2="189.85"/>
<line x1="68.2" y1="208.65" x2="71.75" y2="208.65"/>
<line x1="407.65" y1="208.65" x2="404.1" y2="208.65"/>
<line x1="68.2" y1="227.45" x2="70.05" y2="227.45"/>
<line x1="407.65" y1="227.45" x2="405.8" y2="227.45"/>
<line x1="68.2" y1="246.25" x2="70.05" y2="246.25"/>
<line x1="407.65" y1="246.25" x2="405.8" y2="246.25"/>
<line x1="68.2" y1="265.05" x2="71.75" y2="265.05"/>
<line x1="407.65" y1="265.05" x2="404.1" y2="265.05"/>
<line x1="68.2" y1="283.85" x2="70.05" y2="283.85"/>
<line x1="407.65" y1="283.85" x2="405.8" y2="283.85"/>
<line x1="68.2" y1="302.65" x2="70.05" y2="302.65"/>
<line x1="407.65" y1="302.65" x2="405.8" y2="302.65"/>
<line x1="68.2" y1="321.45" x2="71.75" y2="321.45"/>
<line x1="407.65" y1="321.45" x2="404.1" y2="321.45"/>
<line x1="68.2" y1="339.85" x2="68.2" y2="336.3"/>
<line x1="68.2" y1="34.1" x2="68.2" y2="37.65"/>
<line x1="93.75" y1="339.85" x2="93.75" y2="338"/>
<line x1="93.75" y1="34.1" x2="93.75" y2="35.95"/>
<line x1="108.69" y1="339.85" x2="108.69" y2="338"/>
<line x1="108.69" y1="34.1" x2="108.69" y2="35.95"/>
<line x1="119.29" y1="339.85" x2="119.29" y2="338"/>
<line x1="119.29" y1="34.1" x2="119.29" y2="35.95"/>
<line x1="127.52" y1="339.85" x2="127.52" y2="338"/>
<line x1="127.52" y1="34.1" x2="127.52" y2="35.95"/>
<line x1="134.24" y1="339.85" x2="134.24" y2="338"/>
<line x1="134.24" y1="34.1" x2="134.24" y2="35.95"/>
<line x1="139.92" y1="339.85" x2="139.92" y2="338"/>
<line x1="139.92" y1="34.1" x2="139.92" y2="35.95"/>
<line x1="144.84" y1="339.85" x2="144.84" y2="338"/>
<line x1="144.84" y1="34.1" x2="144.84" y2="35.95"/>
<line x1="149.18" y1="339.85" x2="149.18" y2="338"/>
<line x1="149.18" y1="34.1" x2="149.18" y2="35.95"/>
<line x1="153.06" y1="339.85" x2="153.06" y2="336.3"/>
<line x1="153.06" y1="34.1" x2="153.06" y2="37.65"/>
<line x1="178.61" y1="339.85" x2="178.61" y2="338"/>
<line x1="178.61" y1="34.1" x2="178.61" y2="35.95"/>
<line x1="193.55" y1="339.85" x2="193.55" y2="338"/>
<line x1="193.55" y1="34.1" x2="193.55" y2="35.95"/>
<line x1="204.15" y1="339.85" x2="204.15" y2="338"/>
<line x1="204.15" y1="34.1" x2="204.15" y2="35.95"/>
<line x1="212.38" y1="339.85" x2="212.38" y2="338"/>
<line x1="212.38" y1="34.1" x2="212.38" y2="35.95"/>
<line x1="219.1" y1="339.85" x2="219.1" y2="338"/>
<line x1="219.1" y1="34.1" x2="219.1" y2="35.95"/>
<line x1="224.78" y1="339.85" x2="224.78" y2="338"/>
<line x1="224.78" y1="34.1" x2="224.78" y2="35.95"/>
<line x1="229.7" y1="339.85" x2="229.7" y2="338"/>
<line x1="229.7" y1="34.1" x2="229.7" y2="35.95"/>
<line x1="234.04" y1="339.85" x2="234.04" y2="338"/>
<line x1="234.04" y1="34.1" x2="234.04" y2="35.95"/>
<line x1="237.93" y1="339.85" x2="237.93" y2="336.3"/>
<line x1="237.93" y1="34.1" x2="237.93" y2="37.65"/>
<line x1="263.47" y1="339.85" x2="263.47" y2="338"/>
<line x1="263.47" y1="34.1" x2="263.47" y2="35.95"/>
<line x1="278.41" y1="339.85" x2="278.41" y2="338"/>
<line x1="278.41" y1="34.1" x2="278.41" y2="35.95"/>
<line x1="289.02" y1="339.85" x2="289.02" y2="338"/>
<line x1="289.02" y1="34.1" x2="289.02" y2="35.95"/>
<line x1="297.24" y1="339.85" x2="297.24" y2="338"/>
<line x1="297.24" y1="34.1" x2="297.24" y2="35.95"/>
<line x1="303.96" y1="339.85" x2="303.96" y2="338"/>
<line x1="303.96" y1="34.1" x2="303.96" y2="35.95"/>
<line x1="309.64" y1="339.85" x2="309.64" y2="338"/>
<line x1="309.64" y1="34.1" x2="309.64" y2="35.95"/>
<line x1="314.56" y1="339.85" x2="314.56" y2="338"/>
<line x1="314.56" y1="34.1" x2="314.56" y2="35.95"/>
<line x1="318.9" y1="339.85" x2="318.9" y2="338"/>
<line x1="318.9" y1="34.1" x2="318.9" y2="35.95"/>
<line x1="322.79" y1="339.85" x2="322.79" y2="336.3"/>
<line x1="322.79" y1="34.1" x2="322.79" y2="37.65"/>
<line x1="348.33" y1="339.85" x2="348.33" y2="338"/>
<line x1="348.33" y1="34.1" x2="348.33" y2="35.95"/>
<line x1="363.28" y1="339.85" x2="363.28" y2="338"/>
<line x1="363.28" y1="34.1" x2="363.28" y2="35.95"/>
<line x1="373.88" y1="339.85" x2="373.88" y2="338"/>
<line x1="373.88" y1="34.1" x2="373.88" y2="35.95"/>
<line x1="382.1" y1="339.85" x2="382.1" y2="338"/>
<line x1="382.1" y1="34.1" x2="382.1" y2="35.95"/>
<line x1="388.82" y1="339.85" x2="388.82" y2="338"/>
<line x1="388.82" y1="34.1" x2="388.82" y2="35.95"/>
<line x1="394.5" y1="339.85" x2="394.5" y2="338"/>
<line x1="394.5" y1="34.1" x2="394.5" y2="35.95"/>
<line x1="399.43" y1="339.85" x2="399.43" y2="338"/>
<line x1="399.43" y1="34.1" x2="399.43" y2="35.95"/>
<line x1="403.77" y1="339.85" x2="403.77" y2="338"/>
<line x1="403.77" y1="34.1" x2="403.77" y2="35.95"/>
</g>
<rect x="68.2" y="34.1" width="339.45" height="305.75" fill="none" stroke="#1f1f1f" stroke-width="1.8"/>
<g class="tl">
<text transform="translate(64.3,44.75) scale(1.075,1)" text-anchor="end" font-size="15.4">10</text>
<text transform="translate(64.3,101.15) scale(1.075,1)" text-anchor="end" font-size="15.4">0.01</text>
<text transform="translate(64.3,158.15) scale(1.075,1)" text-anchor="end" font-size="15.4">10<tspan font-size="10.8" dy="-7.4" dx="0.0">−</tspan><tspan font-size="10.8" dx="0.4">5</tspan></text>
<text transform="translate(64.3,214.55) scale(1.075,1)" text-anchor="end" font-size="15.4">10<tspan font-size="10.8" dy="-7.4" dx="0.0">−</tspan><tspan font-size="10.8" dx="0.4">8</tspan></text>
<text transform="translate(64.3,270.95) scale(1.075,1)" text-anchor="end" font-size="15.4">10<tspan font-size="10.8" dy="-7.4" dx="0.7">−</tspan><tspan font-size="10.8" dx="1.0">11</tspan></text>
<text transform="translate(64.3,327.35) scale(1.075,1)" text-anchor="end" font-size="15.4">10<tspan font-size="10.8" dy="-7.4" dx="0.7">−</tspan><tspan font-size="10.8" dx="1.0">14</tspan></text>
<text transform="translate(68.2,356.3) scale(1.075,1)" text-anchor="middle" font-size="15.4">0.01</text>
<text transform="translate(153.06,356.3) scale(1.075,1)" text-anchor="middle" font-size="15.4">0.10</text>
<text transform="translate(237.93,356.3) scale(1.075,1)" text-anchor="middle" font-size="15.4">1</text>
<text transform="translate(322.79,356.3) scale(1.075,1)" text-anchor="middle" font-size="15.4">10</text>
<text transform="translate(407.65,356.3) scale(1.075,1)" text-anchor="middle" font-size="15.4">100</text>
</g>
<g fill="none" stroke-width="1.8">
<line x1="78.8" y1="66.5" x2="113" y2="66.5" stroke="#0000aa"/>
<line x1="78.8" y1="92.7" x2="113" y2="92.7" stroke="#00ff00" stroke-dasharray="8.45 5.1"/>
<line x1="78.8" y1="120.5" x2="113" y2="120.5" stroke="#ff8000"/>
<line x1="78.8" y1="147.2" x2="113" y2="147.2" stroke="#ff0000"/>
</g>
<g class="lg">
<text x="117.4" y="70.3" font-size="15.5" class="it">η<tspan font-size="11.5" dy="3" dx="-0.2">X</tspan><tspan font-size="7.8" dy="2">dd</tspan></text>
<text x="117.4" y="96.5" font-size="15.5" class="it">η<tspan font-size="11.5" dy="5.2" dx="-0.2">X</tspan><tspan font-size="7.8" dy="2">dd</tspan></text>
<text x="125" y="90.2" font-size="10.8">eq</text>
<text x="117.4" y="124.6" font-size="15.5" class="it">η<tspan font-size="11" dy="4.6" dx="0.4" font-style="normal">Δ</tspan><tspan font-size="11" font-style="italic" dx="0.3">B</tspan></text>
<text x="125.5" y="117.8" font-size="11"><tspan class="it">ϵ</tspan>=Max</text>
<text x="117.4" y="151.1" font-size="15.5" class="it">η<tspan font-size="11" dy="2.6" dx="0.4" font-style="normal">Δ</tspan><tspan font-size="11" font-style="italic" dx="0.3">B</tspan></text>
<text x="238" y="380.5" font-size="16" class="it" text-anchor="middle">z</text>
<text transform="translate(13.0,187) rotate(-90) scale(1.15,1)" font-size="14.6" class="it" text-anchor="middle">η</text>
</g>
</svg>
</body></html>
